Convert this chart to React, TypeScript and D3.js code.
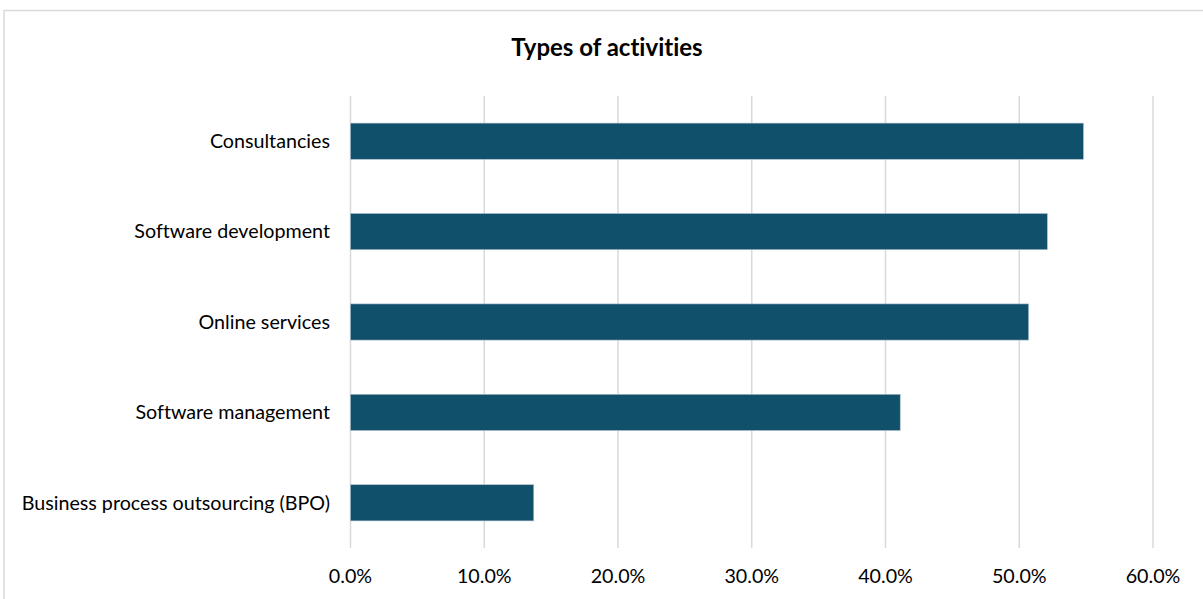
import React from "react";
import * as d3 from "d3";

const categories = [
  "Consultancies",
  "Software development",
  "Online services",
  "Software management",
  "Business process outsourcing (BPO)",
];
const values = [0.548, 0.521, 0.507, 0.411, 0.137];
const xTicks = [0, 0.1, 0.2, 0.3, 0.4, 0.5, 0.6];
const title = "Types of activities";

const W = 1203;
const H = 599;
const FONT = "Lato, 'Open Sans', sans-serif";

export default function App() {
  const x = d3.scaleLinear().domain([0, 0.6]).range([350.5, 1153]);
  const y = d3
    .scaleBand<string>()
    .domain(categories)
    .range([96, 548])
    .paddingInner(0.6)
    .paddingOuter(0.3);
  const fmt = d3.format(".1%");

  return (
    <svg
      width={W}
      height={H}
      style={{
        position: "absolute",
        left: 0,
        top: 0,
        display: "block",
        background: "#fff",
        fontVariantLigatures: "none",
      }}
      fontFamily={FONT}
    >
      <rect x={4} y={10.5} width={1220} height={620} fill="#fff" stroke="#d9d9d9" strokeWidth={1.5} />
      <text x={607} y={56} textAnchor="middle" fontSize={24} fontWeight="bold" fill="#000">
        {title}
      </text>
      {xTicks.map((t) => (
        <line
          key={"g" + t}
          x1={x(t)}
          x2={x(t)}
          y1={96}
          y2={548}
          stroke="#d9d9d9"
          strokeWidth={1.5}
        />
      ))}
      {categories.map((c, i) => (
        <rect
          key={c}
          x={x(0)}
          y={y(c)!}
          width={x(values[i]) - x(0)}
          height={y.bandwidth()}
          fill="#10506a"
          stroke="#a9bfcb"
          strokeWidth={0.6}
        />
      ))}
      {categories.map((c) => (
        <text
          key={"l" + c}
          x={330}
          y={y(c)! + y.bandwidth() / 2}
          dy="0.35em"
          textAnchor="end"
          fontSize={19.7}
          fill="#000"
        >
          {c}
        </text>
      ))}
      {xTicks.map((t) => (
        <text key={"t" + t} x={x(t)} y={583} textAnchor="middle" fontSize={19.7} fill="#000">
          {fmt(t)}
        </text>
      ))}
    </svg>
  );
}
